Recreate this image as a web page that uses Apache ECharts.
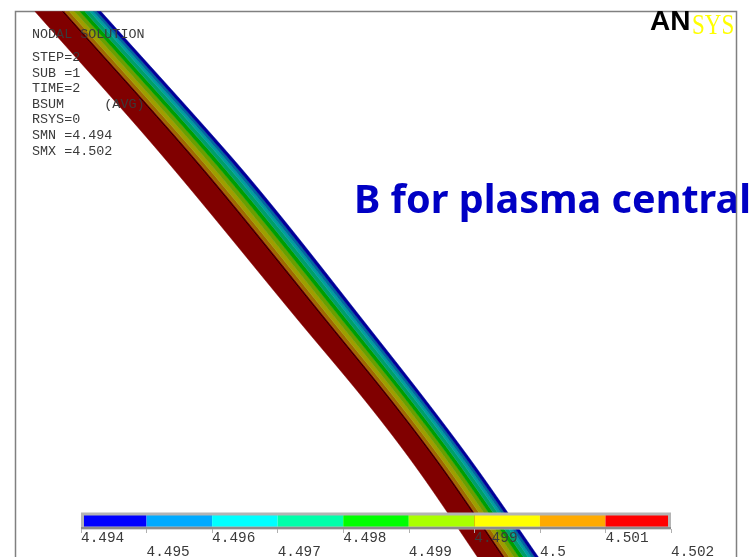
<!DOCTYPE html>
<html><head><meta charset="utf-8">
<style>html,body{margin:0;padding:0;background:#fff}#c{width:754px;height:557px}</style>
<script src="https://cdn.jsdelivr.net/npm/echarts@6/dist/echarts.min.js"></script>
</head><body><div id="c"></div>
<script>
// Model coordinates of the plotted cross-section, measured from the frame's top-left corner
const leftEdge = [[19.5,0],[144.5,141.5],[282.5,308.5],[351.5,391.5],[402.5,458.5],[465,550]];
const rightEdge = [[85.5,0],[212.5,141.5],[268.5,208.5],[347.5,308.5],[412.5,391.5],[462.5,458.5],[526,550]];
const bandStops = [0.45,0.52,0.60,0.68,0.755,0.83,0.885,0.94,1];
const bandColors = ['#800000','#9e6a00','#9e9e00','#6a9e00','#009e00','#009e6a','#009e9e','#006a9e','#000098'];
const boundaryStop = 0.42;
const legendLabels = ['4.494','4.495','4.496','4.497','4.498','4.499','4.499','4.5','4.501','4.502'];
const legendColors = ['#0000ff','#00aaff','#00ffff','#00ffaa','#00ff00','#aaff00','#ffff00','#ffaa00','#ff0000'];
const infoLines = ['STEP=2','SUB =1','TIME=2','BSUM     (AVG)','RSYS=0','SMN =4.494','SMX =4.502'];

function xAt(edge, y){
  const n=edge.length;
  for(let i=0;i<n-1;i++){
    const a=edge[i],b=edge[i+1];
    if(y<=b[1]||i===n-2){
      const p0=edge[Math.max(i-1,0)],p3=edge[Math.min(i+2,n-1)];
      const h=b[1]-a[1],t=(y-a[1])/h;
      const m1=(b[0]-p0[0])/(b[1]-p0[1])*h,m2=(p3[0]-a[0])/(p3[1]-a[1])*h;
      const t2=t*t,t3=t2*t;
      return (2*t3-3*t2+1)*a[0]+(t3-2*t2+t)*m1+(-2*t3+3*t2)*b[0]+(t3-t2)*m2;
    }
  }
}
const rows=[]; for(let y=0;y<=550;y+=5) rows.push(y);
function stopCurve(f){ return rows.map(y=>{const l=xAt(leftEdge,y),r=xAt(rightEdge,y);return [l+(r-l)*f,y];}); }

const textColor='#3a3a3a';
const chart=echarts.init(document.getElementById('c'),null,{renderer:'canvas'});
chart.setOption({
  animation:false,
  backgroundColor:'#fff',
  title:{text:'B for plasma central',left:349,top:177,z:1,textStyle:{fontFamily:'Noto Sans',fontWeight:'bold',fontSize:39.6,color:'#0000c4'}},
  grid:[
    {left:15.5,top:11.5,width:721,height:600,show:true,outerBoundsMode:'none',borderColor:'#808080',borderWidth:1.5,backgroundColor:'transparent',z:5},
    {left:81,top:513,width:590,height:16,outerBoundsMode:'none'}
  ],
  xAxis:[
    {type:'value',gridIndex:0,min:0,max:721,show:false},
    {type:'value',gridIndex:1,min:0,max:9,interval:1,z:10,axisLine:{show:false},splitLine:{show:false},
     axisTick:{show:true,length:4,lineStyle:{color:'#b0b0b0'}},
     axisLabel:{show:true,margin:2,hideOverlap:false,showMinLabel:true,showMaxLabel:true,align:'left',verticalAlign:'top',
       fontFamily:'Liberation Mono',fontSize:14.4,color:textColor,
       formatter:(v)=>{const i=Math.round(v);return (i%2?'{b|':'{a|')+legendLabels[i]+'}';},
       rich:{a:{fontFamily:'Liberation Mono',fontSize:14.4,color:textColor,padding:[0,0,0,0]},
             b:{fontFamily:'Liberation Mono',fontSize:14.4,color:textColor,padding:[14,0,0,0]}}}}
  ],
  yAxis:[
    {type:'value',gridIndex:0,min:0,max:600,inverse:true,show:false},
    {type:'value',gridIndex:1,min:0,max:1,show:false}
  ],
  series:[
    {type:'custom',xAxisIndex:0,yAxisIndex:0,coordinateSystem:'cartesian2d',z:6,clip:false,silent:true,
     data:bandColors.map((c,i)=>[i]),
     renderItem:(p,api)=>{
       const i=api.value(0);
       const upper=stopCurve(bandStops[i]);
       const lower=stopCurve(i?bandStops[i-1]:0).reverse();
       return {type:'polygon',shape:{points:upper.concat(lower).map(q=>api.coord(q))},style:{fill:bandColors[i],stroke:bandColors[i],lineWidth:0.5}};
     }},
    {type:'custom',xAxisIndex:0,yAxisIndex:0,z:6.5,clip:false,silent:true,
     data:[[0]],
     renderItem:(p,api)=>({type:'polyline',shape:{points:stopCurve(boundaryStop).map(q=>api.coord(q))},style:{fill:null,stroke:'#200000',lineWidth:1}})},
    {type:'custom',xAxisIndex:1,yAxisIndex:1,z:7,clip:false,silent:true,
     data:legendColors.map((c,i)=>[i,i+1]),
     renderItem:(p,api)=>{
       const a=api.coord([api.value(0),1]),b=api.coord([api.value(1),0]);
       return {type:'rect',shape:{x:a[0],y:a[1],width:b[0]-a[0],height:b[1]-a[1]},style:{fill:legendColors[api.value(0)]}};
     }},
    {type:'custom',xAxisIndex:1,yAxisIndex:1,z:8,clip:false,silent:true,
     data:[[0,9]],
     renderItem:(p,api)=>{
       const a=api.coord([0,1]),b=api.coord([9,0]);
       return {type:'group',children:[
         {type:'rect',shape:{x:a[0]+1.5,y:a[1]+1,width:b[0]-a[0]-3,height:b[1]-a[1]-2},style:{fill:null,stroke:'#b4b4b4',lineWidth:3}},
         {type:'line',shape:{x1:a[0],y1:b[1]-1,x2:b[0],y2:b[1]-1},style:{stroke:'#8c8c8c',lineWidth:2}}
       ]};
     }}
  ],
  graphic:[
    {type:'text',x:32,y:28,z:20,style:{text:'NODAL SOLUTION',font:'13.4px "Liberation Mono"',fill:textColor}},
    ...infoLines.map((t,i)=>({type:'text',x:32,y:51+i*15.6,z:20,style:{text:t,font:'13.4px "Liberation Mono"',fill:textColor}})),
    {type:'text',x:650,y:8,z:20,style:{text:'AN',font:'900 28px "Liberation Sans"',fill:'#000'}},
    {type:'text',x:692,y:11,z:20,scaleY:1.3,style:{text:'SYS',font:'23px "Liberation Serif"',fill:'#ffff00'}}
  ]
});
</script></body></html>
